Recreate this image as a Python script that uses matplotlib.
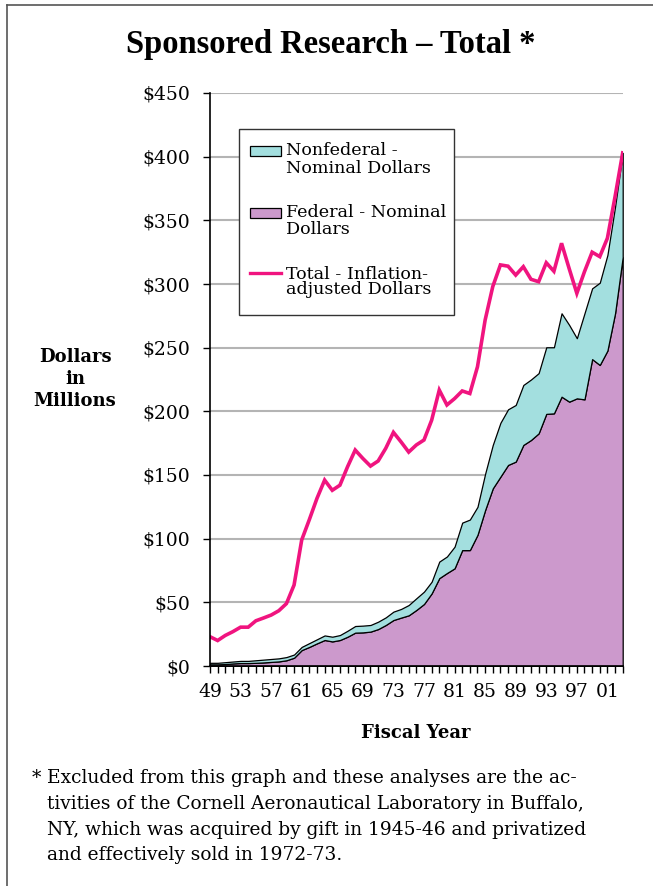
import matplotlib
matplotlib.use("Agg")
import matplotlib.pyplot as plt
from matplotlib.patches import Rectangle
from matplotlib.lines import Line2D
import numpy as np

# Fiscal years 1949-2003
fiscal_years = list(range(1949, 2004))

# Federal sponsored research, nominal dollars (millions)
federal_nominal = [
    1.3, 1.3, 1.5, 2.0, 2.3, 2.3, 2.5, 2.8, 3.2, 3.6,
    4.5, 6.5, 12.5, 15.0, 17.8, 20.4, 19.3, 20.4, 23.0, 26.2,
    26.4, 27.0, 29.0, 32.2, 36.1, 38.0, 39.8, 44.0, 48.7, 57.0,
    69.0, 73.0, 76.7, 91.0, 91.0, 103.0, 122.5, 139.5, 148.7, 157.9,
    160.5, 173.6, 177.5, 182.7, 198.0, 198.4, 211.5, 207.6, 210.2, 209.4,
    241.0, 236.4, 247.7, 277.0, 321.0,
]

# Nonfederal sponsored research, nominal dollars (millions)
nonfederal_nominal = [
    1.2, 1.2, 1.5, 1.5, 1.7, 1.7, 2.0, 2.2, 2.3, 2.4,
    2.5, 2.5, 2.5, 3.0, 3.2, 3.6, 3.7, 3.9, 4.7, 5.2,
    5.3, 5.2, 5.8, 6.0, 6.6, 6.8, 8.1, 9.2, 9.7, 9.2,
    13.0, 13.0, 17.0, 21.6, 24.0, 22.0, 28.5, 34.1, 42.3, 43.7,
    44.5, 47.1, 47.5, 47.3, 52.3, 51.9, 65.5, 60.2, 47.2, 67.6,
    55.6, 64.6, 75.1, 83.7, 82.0,
]

# Total sponsored research, inflation-adjusted dollars (millions)
total_real = [
    23.0, 20.0, 24.0, 27.0, 30.5, 30.5, 35.5, 37.7, 40.0, 43.4,
    49.0, 63.6, 99.0, 115.0, 131.7, 146.0, 138.0, 142.0, 156.5, 169.6,
    163.0, 157.0, 161.0, 171.0, 183.5, 176.0, 168.0, 173.6, 177.5, 193.0,
    216.7, 205.0, 210.0, 216.0, 214.0, 235.0, 271.7, 298.0, 315.0, 314.0,
    307.0, 313.6, 303.7, 301.8, 316.7, 310.0, 332.0, 312.0, 292.7, 309.7,
    325.0, 321.5, 336.0, 368.6, 403.0,
]

tick_years = fiscal_years[::4]
tick_labels = ["49", "53", "57", "61", "65", "69", "73", "77", "81", "85", "89", "93", "97", "01"]
y_ticks = [0, 50, 100, 150, 200, 250, 300, 350, 400, 450]

label_names = [
    ("Nonfederal -", "Nominal Dollars"),
    ("Federal - Nominal", "Dollars"),
    ("Total - Inflation-", "adjusted Dollars"),
]

NONFED_COLOR = "#A3DFDF"
FED_COLOR = "#CC99CC"
REAL_COLOR = "#F0147F"
GRID_COLOR = "#B4B4B4"
SERIF = "DejaVu Serif"

plt.rcParams["font.family"] = SERIF

fig = plt.figure(figsize=(6.53, 8.86), dpi=100)

# Page frame (left and top edges)
fig.add_artist(Line2D([7 / 653, 7 / 653], [0, 1 - 5 / 886], color="#555555", lw=1.2))
fig.add_artist(Line2D([7 / 653, 1], [1 - 5 / 886, 1 - 5 / 886], color="#555555", lw=1.2))

ax = fig.add_axes([210 / 653, 1 - 666 / 886, 412.7 / 653, 573 / 886])

x = np.array(fiscal_years)
fed = np.array(federal_nominal)
tot = fed + np.array(nonfederal_nominal)

ax.fill_between(x, 0, fed, facecolor=FED_COLOR, edgecolor="black", lw=0.9, zorder=3)
ax.fill_between(x, fed, tot, facecolor=NONFED_COLOR, edgecolor="black", lw=0.9, zorder=3)
ax.plot(x, total_real, color=REAL_COLOR, lw=2.6, zorder=4, solid_joinstyle="miter")

ax.set_xlim(1949, 2003)
ax.set_ylim(0, 450)

ax.set_yticks(y_ticks)
ax.set_yticklabels([f"${v}" for v in y_ticks])
ax.set_xticks(fiscal_years, minor=True)
ax.set_xticks(tick_years)
ax.set_xticklabels(tick_labels)

ax.grid(axis="y", color=GRID_COLOR, lw=1.5, zorder=0)
ax.set_axisbelow(True)
for s in ("top", "right"):
    ax.spines[s].set_visible(False)
for s in ("left", "bottom"):
    ax.spines[s].set_linewidth(1.2)
    ax.spines[s].set_zorder(5)

ax.tick_params(axis="y", direction="out", length=5, width=1, labelsize=13.5, pad=9)
ax.tick_params(axis="x", which="both", direction="out", length=5, width=1)
ax.tick_params(axis="x", which="major", labelsize=13.5, pad=7)

# Legend box drawn in axes coordinates
tr = ax.transAxes
ax.add_patch(Rectangle((0.071, 0.6126), 0.520, 0.3254, transform=tr, facecolor="white",
                       edgecolor="#333333", lw=1.0, zorder=6))
ax.add_patch(Rectangle((0.097, 0.890), 0.075, 0.0175, transform=tr, facecolor=NONFED_COLOR,
                       edgecolor="black", lw=0.9, zorder=7))
ax.add_patch(Rectangle((0.097, 0.782), 0.075, 0.0175, transform=tr, facecolor=FED_COLOR,
                       edgecolor="black", lw=0.9, zorder=7))
ax.add_line(Line2D([0.097, 0.172], [0.6864, 0.6864], transform=tr, color=REAL_COLOR, lw=2.4, zorder=7))
legend_rows = [(0.8988, 0.8683), (0.7906, 0.7615), (0.6841, 0.6562)]
for (first, second), (y1, y2) in zip(label_names, legend_rows):
    ax.text(0.184, y1, first, transform=tr, fontsize=12.6, va="center", ha="left", zorder=8)
    ax.text(0.184, y2, second, transform=tr, fontsize=12.6, va="center", ha="left", zorder=8)

# Titles and axis labels
fig.text(331 / 653, 1 - 45 / 886, "Sponsored Research \u2013 Total *", ha="center", va="center",
         fontsize=23.5, fontweight="bold", family="Liberation Serif")
for i, word in enumerate(["Dollars", "in", "Millions"]):
    fig.text(75 / 653, 1 - (357 + 22 * i) / 886, word, ha="center", va="center",
             fontsize=13, fontweight="bold")
fig.text(416 / 653, 1 - 733 / 886, "Fiscal Year", ha="center", va="center",
         fontsize=13, fontweight="bold")

# Footnote
foot_lines = [
    "Excluded from this graph and these analyses are the ac-",
    "tivities of the Cornell Aeronautical Laboratory in Buffalo,",
    "NY, which was acquired by gift in 1945-46 and privatized",
    "and effectively sold in 1972-73.",
]
fig.text(32 / 653, 1 - 783 / 886, "*", ha="left", va="baseline", fontsize=13.4)
for i, line in enumerate(foot_lines):
    fig.text(47 / 653, 1 - (783 + 25.8 * i) / 886, line, ha="left", va="baseline", fontsize=13.4)

fig.savefig("out.png", dpi=100)
